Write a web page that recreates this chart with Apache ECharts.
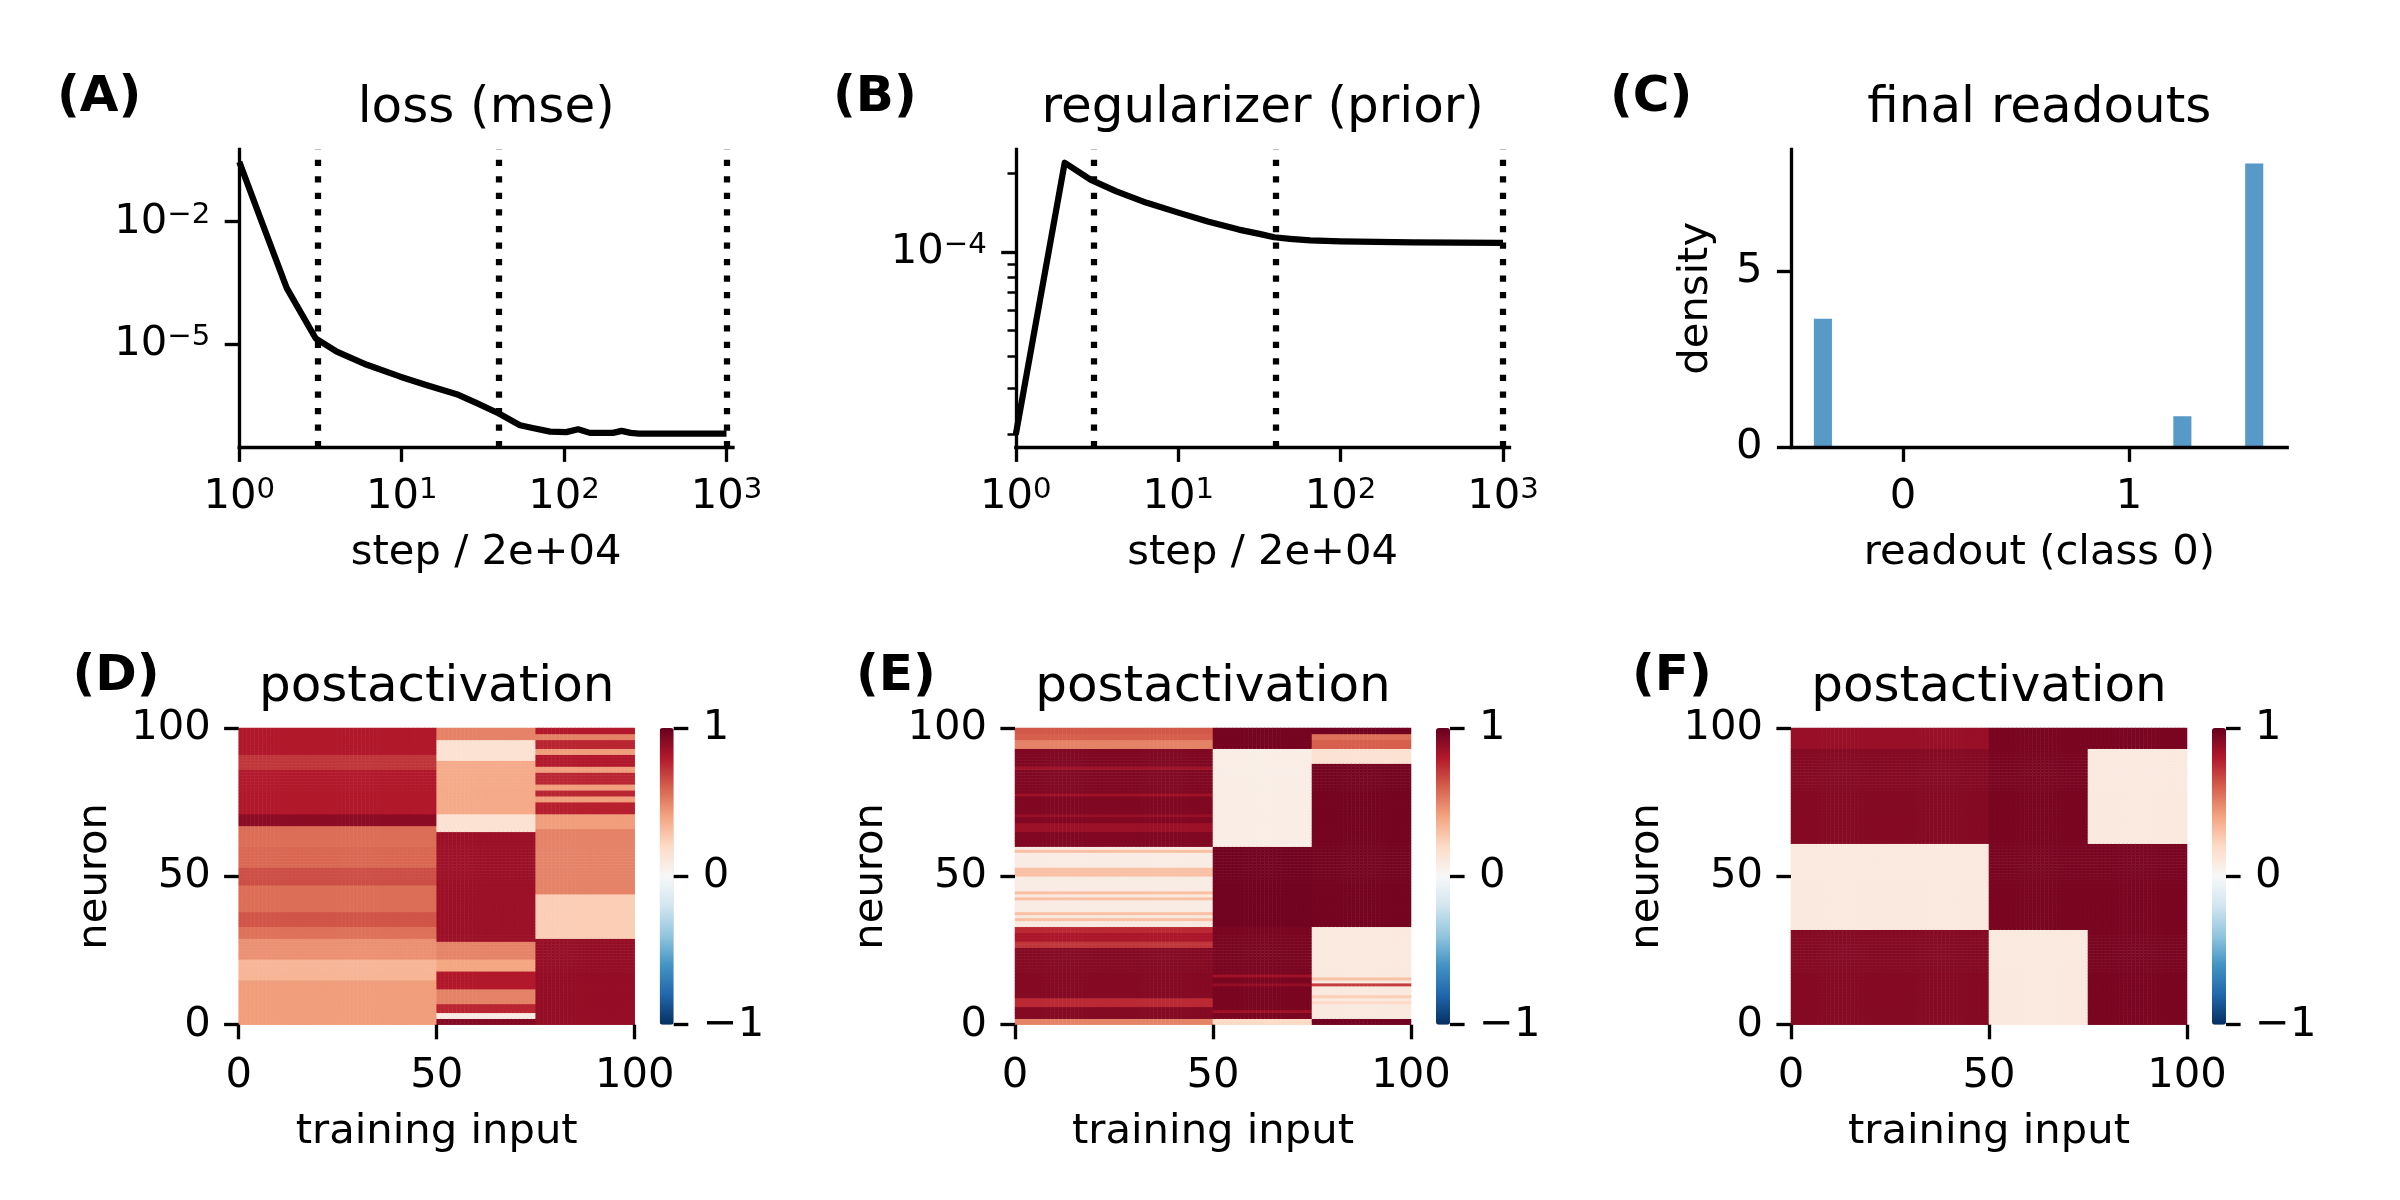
<!DOCTYPE html>
<html>
<head>
<meta charset="utf-8">
<script src="https://cdn.jsdelivr.net/npm/echarts@6/dist/echarts.min.js"></script>
<style>
html, body { margin: 0; padding: 0; background: #ffffff; }
#chart { width: 2400px; height: 1200px; }
</style>
</head>
<body>
<div id="chart"></div>
<script>
// ---------------- DATA ----------------
// (A) loss (mse) vs step / 2e+04
const lossSteps  = [1, 1.41, 1.96, 2.95, 3.98, 6.1, 9.8, 14.3, 21.8, 29, 39.4, 53.5, 64, 82, 103, 122, 144, 200, 226, 257, 290, 1000];
const lossValues = [0.295, 7.6e-3, 2.34e-4, 1.38e-5, 6.46e-6, 3.09e-6, 1.58e-6, 9.77e-7, 5.89e-7, 3.55e-7, 2.0e-7, 1.02e-7, 8.7e-8, 7.1e-8, 6.9e-8, 8.1e-8, 6.6e-8, 6.6e-8, 7.4e-8, 6.6e-8, 6.3e-8, 6.3e-8];
// (B) regularizer (prior) vs step / 2e+04
const regSteps  = [1, 2, 2.9, 4.16, 6.4, 9.9, 15.2, 23.6, 31.6, 39, 48.7, 65, 100, 277, 1000];
const regValues = [2.0e-5, 2.2e-4, 1.89e-4, 1.71e-4, 1.545e-4, 1.42e-4, 1.31e-4, 1.22e-4, 1.175e-4, 1.14e-4, 1.125e-4, 1.11e-4, 1.10e-4, 1.09e-4, 1.084e-4];
// dotted vertical markers (snapshot steps)
const snapshotSteps = [3, 40, 1000];
// (C) final readouts histogram (non-empty bins)
const readoutBinLeft  = [-0.395, 1.196, 1.514];
const readoutBinRight = [-0.315, 1.276, 1.594];
const readoutDensity  = [3.645, 0.880, 8.044];
// tick values
const stepTicks = [1, 10, 100, 1000];
const lossTicks = [1e-5, 1e-2];
const regTicks = [1e-4];
const regMinorTicks = [2e-4, 9e-5, 8e-5, 7e-5, 6e-5, 5e-5, 4e-5, 3e-5, 2e-5];
const readoutTicks = [0, 1];
const densityTicks = [0, 5];
const heatTicks = [0, 50, 100];
const colorbarTicks = [-1, 0, 1];
// heatmaps: training inputs split in blocks; per block, runs of neurons [from, to, activation]
const inputBlockEdges = [0, 50, 75, 100];
const dRunsBlock1 = [[0,15,0.42],[15,22,0.34],[22,29,0.46],[29,33,0.55],[33,38,0.63],[38,47,0.56],[47,53,0.65],[53,60,0.58],[60,67,0.56],[67,71,0.9],[71,86,0.8],[86,91,0.72],[91,100,0.8]];
const dRunsBlock2 = [[0,2,0.92],[2,4,0.08],[4,7,0.76],[7,12,0.5],[12,18,0.8],[18,22,0.4],[22,28,0.5],[28,65,0.86],[65,71,0.15],[71,89,0.38],[89,96,0.15],[96,100,0.5]];
const dRunsBlock3 = [[0,29,0.88],[29,44,0.25],[44,66,0.5],[66,71,0.42],[71,75,0.78],[75,77,0.42],[77,79,0.76],[79,81,0.42],[81,85,0.76],[85,87,0.42],[87,91,0.8],[91,93,0.42],[93,96,0.76],[96,98,0.5],[98,100,0.8]];
const eRunsBlock1 = [[0,2,0.5],[2,6,0.92],[6,9,0.75],[9,26,0.92],[26,28,0.72],[28,31,0.82],[31,33,0.75],[33,35,0.1],[35,36,0.3],[36,37,0.1],[37,38,0.3],[38,42,0.08],[42,43,0.3],[43,44,0.1],[44,45,0.3],[45,50,0.08],[50,53,0.3],[53,58,0.08],[58,59,0.3],[59,60,0.1],[60,65,0.93],[65,68,0.86],[68,70,0.93],[70,71,0.87],[71,77,0.93],[77,78,0.85],[78,86,0.93],[86,87,0.85],[87,93,0.93],[93,96,0.5],[96,98,0.6],[98,100,0.62]];
const eRunsBlock2 = [[0,2,0.2],[2,4,0.95],[4,5,0.85],[5,13,0.95],[13,14,0.88],[14,16,0.95],[16,17,0.85],[17,33,0.95],[33,60,0.97],[60,93,0.07],[93,100,0.96]];
const eRunsBlock3 = [[0,2,0.97],[2,7,0.1],[7,8,0.2],[8,9,0.1],[9,10,0.25],[10,13,0.1],[13,14,0.7],[14,15,0.1],[15,16,0.3],[16,33,0.1],[33,88,0.96],[88,93,0.15],[93,96,0.6],[96,98,0.55],[98,100,0.97]];
const fRunsBlock1 = [[0,32,0.92],[32,61,0.1],[61,93,0.92],[93,100,0.87]];
const fRunsBlock2 = [[0,32,0.1],[32,100,0.95]];
const fRunsBlock3 = [[0,61,0.95],[61,93,0.1],[93,100,0.95]];
const inputIndex = Array.from({length: 100}, (_, i) => i);
const neuronIndex = Array.from({length: 100}, (_, i) => i);

// ---------------- STYLE / LAYOUT ----------------
const FONT = 'DejaVu Sans';
const FS = 41.7, TFS = 50, SUPFS = 29.2;
const LW = 6.25, SPINE = 3.33, TICKLEN = 14.6;
const RDBU_R = ['#053061','#2166ac','#4393c3','#92c5de','#d1e5f0','#f7f7f7','#fddbc7','#f4a582','#d6604d','#b2182b','#67001f'];
const BOX = {
  A: {left: 239.3, top: 149.3, width: 493.7, height: 298},
  B: {left: 1015.8, top: 149.3, width: 493.7, height: 298},
  C: {left: 1791.5, top: 149.3, width: 495.7, height: 298},
  D: {left: 238.7, top: 728, width: 396, height: 296.7},
  E: {left: 1015, top: 728, width: 396, height: 296.7},
  F: {left: 1791, top: 728, width: 396, height: 296.7},
  cD: {left: 659.7, top: 728, width: 14, height: 296.7},
  cE: {left: 1436, top: 728, width: 14, height: 296.7},
  cF: {left: 2212, top: 728, width: 14, height: 296.7}
};
const STEP_RANGE = [0, 3.04];
const LOSS_RANGE = [-7.534, -0.224];
const REG_RANGE = [-4.748, -3.606];
const READ_RANGE = [-0.494, 1.70];
const DENS_RANGE = [0, 8.446];

const log10 = Math.log10;
const grids = [], xAxes = [], yAxes = [], series = [], visualMaps = [], titles = [];
function addGrid(b) { grids.push({left: b.left, top: b.top, width: b.width, height: b.height, containLabel: false}); return grids.length - 1; }
const txt = {color: '#000', fontFamily: FONT, fontSize: FS, lineHeight: FS};
const richSup = {
  b: {fontFamily: FONT, fontSize: FS, lineHeight: FS, color: '#000'},
  s: {fontFamily: FONT, fontSize: SUPFS, lineHeight: 22, verticalAlign: 'top', color: '#000'}
};
function supLabel(v) { const e = Math.round(v); return '{b|10}{s|' + (e < 0 ? '\u2212' + (-e) : String(e)) + '}'; }
function minusLabel(v) { return v < 0 ? '\u2212' + (-v) : String(v); }

function valAxis(gi, pos, range, ticks, o) {
  o = o || {};
  const a = {
    gridIndex: gi, type: 'value', position: pos, min: range[0], max: range[1], z: 5,
    axisLine: {show: o.line !== false, onZero: false, lineStyle: {color: '#000', width: SPINE, cap: 'square'}},
    axisTick: {show: true, inside: false, length: o.tickLen || TICKLEN, customValues: ticks, lineStyle: {color: '#000', width: o.tickWidth || SPINE}},
    axisLabel: o.noLabel ? {show: false} : Object.assign({show: true, customValues: ticks, margin: o.margin || 29, hideOverlap: false, formatter: o.formatter || minusLabel, rich: o.rich}, txt),
    splitLine: {show: false}, splitArea: {show: false}
  };
  if (o.name) {
    a.name = o.name; a.nameLocation = 'middle'; a.nameGap = o.nameGap;
    if (o.nameRotate !== undefined) a.nameRotate = o.nameRotate;
    a.nameTextStyle = Object.assign({}, txt);
  }
  return a;
}
function pushX(a) { xAxes.push(a); return xAxes.length - 1; }
function pushY(a) { yAxes.push(a); return yAxes.length - 1; }

// ---------- (A) loss ----------
const gA = addGrid(BOX.A);
const xA = pushX(valAxis(gA, 'bottom', STEP_RANGE, stepTicks.map(log10), {formatter: supLabel, rich: richSup, name: 'step / 2e+04', nameGap: 85.4}));
const yA = pushY(valAxis(gA, 'left', LOSS_RANGE, lossTicks.map(log10), {formatter: supLabel, rich: richSup}));
const dottedMarks = {
  silent: true, symbol: ['none', 'none'], animation: false,
  label: {show: false},
  lineStyle: {color: '#000', width: LW, type: [LW, 10.3], cap: 'butt'},
  emphasis: {disabled: true},
  data: snapshotSteps.map(s => ({xAxis: log10(s)}))
};
series.push({
  type: 'line', xAxisIndex: xA, yAxisIndex: yA, symbol: 'none', z: 3,
  data: lossSteps.map((s, i) => [log10(s), log10(lossValues[i])]),
  lineStyle: {color: '#000', width: LW, join: 'round'},
  markLine: dottedMarks
});

// ---------- (B) regularizer ----------
const gB = addGrid(BOX.B);
const xB = pushX(valAxis(gB, 'bottom', STEP_RANGE, stepTicks.map(log10), {formatter: supLabel, rich: richSup, name: 'step / 2e+04', nameGap: 85.4}));
const yB = pushY(valAxis(gB, 'left', REG_RANGE, regTicks.map(log10), {formatter: supLabel, rich: richSup}));
pushY(valAxis(gB, 'left', REG_RANGE, regMinorTicks.map(log10), {line: false, noLabel: true, tickLen: 8.3, tickWidth: 2.5}));
series.push({
  type: 'line', xAxisIndex: xB, yAxisIndex: yB, symbol: 'none', z: 3,
  data: regSteps.map((s, i) => [log10(s), log10(regValues[i])]),
  lineStyle: {color: '#000', width: LW, join: 'round'},
  markLine: dottedMarks
});

// ---------- (C) final readouts ----------
const gC = addGrid(BOX.C);
const xC = pushX(valAxis(gC, 'bottom', READ_RANGE, readoutTicks, {name: 'readout (class 0)', nameGap: 85.4}));
const yC = pushY(valAxis(gC, 'left', DENS_RANGE, densityTicks, {name: 'density', nameGap: 74, nameRotate: 90}));
series.push({
  type: 'custom', xAxisIndex: xC, yAxisIndex: yC, z: 2,
  dimensions: ['left', 'right', 'density'],
  encode: {x: [0, 1], y: 2},
  data: readoutBinLeft.map((l, i) => [l, readoutBinRight[i], readoutDensity[i]]),
  renderItem: (params, api) => {
    const p0 = api.coord([api.value(0), api.value(2)]);
    const p1 = api.coord([api.value(1), 0]);
    return {type: 'rect', shape: {x: p0[0], y: p0[1], width: p1[0] - p0[0], height: p1[1] - p0[1]}, style: {fill: 'rgba(31,119,180,0.75)'}};
  }
});

// ---------- (D)(E)(F) heatmaps ----------
function buildCells(runsByBlock) {
  const cells = [];
  inputIndex.forEach(i => {
    let b = 0;
    while (b < inputBlockEdges.length - 2 && i >= inputBlockEdges[b + 1]) b++;
    runsByBlock[b].forEach(([from, to, v]) => {
      neuronIndex.forEach(n => { if (n >= from && n < to) cells.push([i, n, v]); });
    });
  });
  return cells;
}
function addHeatmap(box, cbox, runs) {
  const g = addGrid(box);
  const xc = pushX({gridIndex: g, type: 'category', data: inputIndex, show: false, position: 'top', boundaryGap: true});
  const yc = pushY({gridIndex: g, type: 'category', data: neuronIndex, show: false, position: 'right', boundaryGap: true});
  pushX(valAxis(g, 'bottom', [0, 100], heatTicks, {line: false, margin: 30.4, name: 'training input', nameGap: 87}));
  pushY(valAxis(g, 'left', [0, 100], heatTicks, {line: false, margin: 28, name: 'neuron', nameGap: 123, nameRotate: 90}));
  series.push({
    type: 'heatmap', xAxisIndex: xc, yAxisIndex: yc, progressive: 0, z: 2,
    data: buildCells(runs), emphasis: {disabled: true}, itemStyle: {borderWidth: 0}
  });
  const si = series.length - 1;
  visualMaps.push({
    type: 'continuous', min: -1, max: 1, seriesIndex: si, calculable: false, hoverLink: false,
    orient: 'vertical', left: cbox.left, top: cbox.top, itemWidth: cbox.width, itemHeight: cbox.height,
    padding: 0, text: null, inRange: {color: RDBU_R}
  });
  const gc = addGrid(cbox);
  pushX({gridIndex: gc, type: 'value', min: 0, max: 1, show: false});
  pushY(valAxis(gc, 'right', [-1, 1], colorbarTicks, {line: false, margin: 29}));
}
addHeatmap(BOX.D, BOX.cD, [dRunsBlock1, dRunsBlock2, dRunsBlock3]);
addHeatmap(BOX.E, BOX.cE, [eRunsBlock1, eRunsBlock2, eRunsBlock3]);
addHeatmap(BOX.F, BOX.cF, [fRunsBlock1, fRunsBlock2, fRunsBlock3]);

// ---------- titles & panel letters ----------
function addTitle(text, x, y, align, bold) {
  titles.push({
    text: text, left: x, top: y, textAlign: align, textVerticalAlign: 'top', padding: 0,
    textStyle: {fontFamily: FONT, fontSize: TFS, lineHeight: TFS, fontWeight: bold ? 'bold' : 'normal', color: '#000'}
  });
}
addTitle('loss (mse)', BOX.A.left + BOX.A.width / 2, 84.4, 'center');
addTitle('regularizer (prior)', BOX.B.left + BOX.B.width / 2, 84.4, 'center');
addTitle('final readouts', BOX.C.left + BOX.C.width / 2, 84.4, 'center');
addTitle('postactivation', BOX.D.left + BOX.D.width / 2, 663, 'center');
addTitle('postactivation', BOX.E.left + BOX.E.width / 2, 663, 'center');
addTitle('postactivation', BOX.F.left + BOX.F.width / 2, 663, 'center');
addTitle('(A)', 57, 72.7, 'left', true);
addTitle('(B)', 833, 72.7, 'left', true);
addTitle('(C)', 1610, 72.7, 'left', true);
addTitle('(D)', 72.5, 652, 'left', true);
addTitle('(E)', 856, 652, 'left', true);
addTitle('(F)', 1632, 652, 'left', true);

const chart = echarts.init(document.getElementById('chart'), null, {renderer: 'canvas', width: 2400, height: 1200});
chart.setOption({
  backgroundColor: '#ffffff',
  animation: false,
  textStyle: {fontFamily: FONT},
  title: titles,
  grid: grids,
  xAxis: xAxes,
  yAxis: yAxes,
  visualMap: visualMaps,
  series: series
});
</script>
</body>
</html>
